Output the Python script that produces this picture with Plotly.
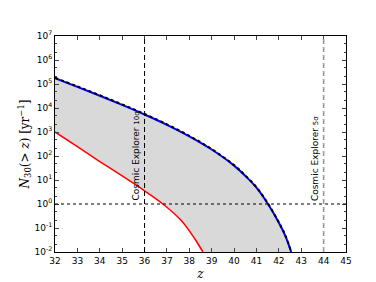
import plotly.graph_objects as go

# Data (log10 values)
z_blue = [32, 33, 34, 35, 36, 37, 38, 39, 40, 40.5, 41, 41.5, 42, 42.3, 42.55]
log_blue = [5.24, 4.88, 4.51, 4.13, 3.73, 3.30, 2.82, 2.27, 1.60, 1.17, 0.68, 0.02, -0.78, -1.35, -2.0]
log_dash = [5.26, 4.90, 4.53, 4.15, 3.75, 3.32, 2.84, 2.29, 1.62, 1.19, 0.70, 0.04, -0.76, -1.33, -2.0]
z_red = [32, 33, 34, 35, 36, 36.82, 37.63, 38.25, 38.61]
log_red = [3.0, 2.39, 1.77, 1.17, 0.55, 0.0, -0.68, -1.46, -2.0]
z_lines = [36, 44]
line_labels = ["Cosmic Explorer ", "Cosmic Explorer "]
line_sig = ["10σ", "5σ"]
line_colors = ["black", "#999999"]
line_widths = [1, 1.6]
x_ticks = list(range(32, 46))
y_exps = list(range(-2, 8))

blue = [10 ** v for v in log_blue]
dash = [10 ** v for v in log_dash]
red = [10 ** v for v in log_red]

fig = go.Figure()
# shaded region between red and blue
fig.add_trace(go.Scatter(x=z_blue + z_red[::-1], y=blue + red[::-1], fill="toself",
                         fillcolor="#d9d9d9", line=dict(width=0), mode="lines",
                         line_shape="spline", hoverinfo="skip", showlegend=False))
fig.add_trace(go.Scatter(x=z_red, y=red, mode="lines", line=dict(color="#ff0000", width=1.5),
                         line_shape="spline", showlegend=False))
fig.add_trace(go.Scatter(x=z_blue, y=blue, mode="lines", line=dict(color="#0000ff", width=2),
                         line_shape="spline", showlegend=False))
fig.add_trace(go.Scatter(x=z_blue, y=dash, mode="lines",
                         line=dict(color="black", width=2, dash="3px,3px"),
                         line_shape="spline", showlegend=False))

for zl, lab, sig, col, lw in zip(z_lines, line_labels, line_sig, line_colors, line_widths):
    fig.add_shape(type="line", x0=zl, x1=zl, y0=0, y1=1, xref="x", yref="paper",
                  line=dict(color=col, width=lw, dash="5px,3px"))
    fig.add_annotation(x=zl, y=0, xref="x", yref="y", text=lab + "<span style='font-size:7px'>" + sig + "</span>",
                       textangle=-90, showarrow=False, xanchor="right", yanchor="bottom",
                       xshift=-2, yshift=1, font=dict(family="DejaVu Sans", size=9, color="black"))

fig.add_shape(type="line", x0=0, x1=1, y0=1, y1=1, xref="paper", yref="y",
              line=dict(color="black", width=1, dash="dot"))

fig.update_layout(
    width=376, height=282, margin=dict(l=47, r=38, t=28, b=29),
    plot_bgcolor="white", paper_bgcolor="white",
    font=dict(family="DejaVu Sans", size=9, color="black"),
)
fig.update_xaxes(range=[32, 45], tickvals=x_ticks, ticks="inside", ticklen=4, showgrid=False,
                 zeroline=False, showline=True, linecolor="black", linewidth=1, mirror="allticks",
                 tickfont=dict(size=9),
                 title=dict(text="<i>z</i>", font=dict(family="DejaVu Serif", size=12), standoff=4))
fig.update_yaxes(type="log", range=[-2, 7], tickvals=[10 ** e for e in y_exps],
                 ticktext=["10<sup>%d</sup>" % e for e in y_exps],
                 ticks="inside", ticklen=4, showgrid=False, zeroline=False, showline=True,
                 linecolor="black", linewidth=1, mirror="allticks", tickfont=dict(size=9),
                 minor=dict(ticks="inside", ticklen=2, showgrid=False),
                 title=dict(text="<i>N</i><sub>30</sub>(&gt; <i>z</i>) [yr<sup>−1</sup>]",
                            font=dict(family="DejaVu Serif", size=12), standoff=2))

fig.write_html("out.html")
